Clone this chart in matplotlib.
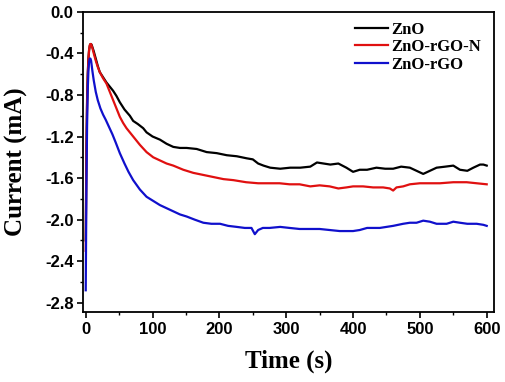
import matplotlib
matplotlib.use('Agg')
import matplotlib.pyplot as plt
from matplotlib.ticker import MultipleLocator

# chronoamperometry traces (time in s, current in mA)
t_zno = [0, 1, 2, 3, 4, 5, 6, 7, 8, 9, 10, 12, 15, 18, 21, 26, 31, 36, 41, 46, 51, 58, 66, 71, 78,
         86, 91, 100, 111, 121, 131, 141, 151, 166, 181, 196, 211, 226, 241, 250, 258, 266, 276,
         291, 306, 321, 336, 346, 356, 366, 378, 390, 400, 410, 421, 435, 448, 460, 472, 485,
         495, 505, 515, 525, 538, 550, 560, 571, 580, 590, 595, 600]
i_zno = [-2.2, -1.3, -0.85, -0.6, -0.45, -0.37, -0.33, -0.31, -0.31, -0.32, -0.34, -0.38, -0.45,
         -0.52, -0.58, -0.63, -0.68, -0.72, -0.76, -0.81, -0.87, -0.94, -1.0, -1.05, -1.08,
         -1.12, -1.16, -1.2, -1.23, -1.27, -1.3, -1.31, -1.31, -1.32, -1.35, -1.36, -1.38,
         -1.39, -1.41, -1.42, -1.46, -1.48, -1.50, -1.51, -1.50, -1.50, -1.49, -1.45, -1.46,
         -1.47, -1.46, -1.50, -1.54, -1.52, -1.52, -1.50, -1.51, -1.51, -1.49, -1.50,
         -1.53, -1.56, -1.53, -1.50, -1.49, -1.48, -1.52, -1.53, -1.50, -1.47, -1.47, -1.48]

t_n = [0, 1, 2, 3, 4, 5, 6, 7, 8, 9, 10, 12, 15, 18, 21, 26, 31, 36, 41, 46, 51, 56, 61, 71, 81,
       91, 101, 111, 121, 131, 146, 161, 176, 191, 206, 221, 240, 258, 275, 290, 305, 320, 336,
       350, 365, 378, 390, 400, 415, 430, 445, 455, 460, 465, 475, 485, 500, 515, 530, 550,
       570, 585, 600]
i_n = [-2.3, -1.4, -0.9, -0.62, -0.46, -0.37, -0.32, -0.31, -0.31, -0.33, -0.35, -0.40, -0.47,
       -0.53, -0.58, -0.64, -0.69, -0.77, -0.85, -0.93, -1.01, -1.07, -1.12, -1.2, -1.28,
       -1.35, -1.40, -1.43, -1.46, -1.48, -1.52, -1.55, -1.57, -1.59, -1.61, -1.62, -1.64,
       -1.65, -1.65, -1.65, -1.66, -1.66, -1.68, -1.67, -1.68, -1.70, -1.69, -1.68, -1.68,
       -1.69, -1.69, -1.70, -1.72, -1.69, -1.68, -1.66, -1.65, -1.65, -1.65, -1.64, -1.64,
       -1.65, -1.66]

t_rgo = [0, 1, 2, 3, 4, 5, 6, 7, 8, 9, 10, 12, 15, 18, 22, 26, 30, 35, 40, 45, 51, 58, 64, 71,
         81, 91, 101, 111, 121, 131, 141, 151, 163, 176, 188, 201, 213, 226, 238, 248, 253,
         258, 265, 275, 291, 305, 320, 336, 350, 365, 380, 400, 410, 421, 440, 460, 475, 485,
         495, 505, 515, 525, 540, 550, 560, 571, 585, 595, 600]
i_rgo = [-2.68, -1.7, -1.1, -0.75, -0.57, -0.48, -0.45, -0.45, -0.47, -0.52, -0.57, -0.66,
         -0.77, -0.85, -0.93, -0.99, -1.04, -1.11, -1.18, -1.26, -1.36, -1.46, -1.54, -1.62,
         -1.71, -1.78, -1.82, -1.86, -1.89, -1.92, -1.95, -1.97, -2.0, -2.03, -2.04, -2.04,
         -2.06, -2.07, -2.08, -2.08, -2.14, -2.10, -2.08, -2.08, -2.07, -2.08, -2.09, -2.09,
         -2.09, -2.10, -2.11, -2.11, -2.10, -2.08, -2.08, -2.06, -2.04, -2.03, -2.03, -2.01,
         -2.02, -2.04, -2.04, -2.02, -2.03, -2.04, -2.04, -2.05, -2.06]

labels = ['ZnO', 'ZnO-rGO-N', 'ZnO-rGO']
colors = ['black', '#e01010', '#1010cc']

fig = plt.figure(figsize=(5.05, 3.82), dpi=100)
ax = fig.add_axes([0.165, 0.183, 0.814, 0.786])

ax.plot(t_zno, i_zno, color=colors[0], lw=1.6, label=labels[0])
ax.plot(t_n, i_n, color=colors[1], lw=1.6, label=labels[1])
ax.plot(t_rgo, i_rgo, color=colors[2], lw=1.6, label=labels[2])

ax.set_xlim(-3.6, 611.5)
ax.set_ylim(-2.89, 0.0)
ax.xaxis.set_major_locator(MultipleLocator(100))
ax.xaxis.set_minor_locator(MultipleLocator(50))
ax.yaxis.set_major_locator(MultipleLocator(0.4))
ax.yaxis.set_minor_locator(MultipleLocator(0.2))
ax.yaxis.set_major_formatter(plt.FuncFormatter(lambda v, p: f"{v:.1f}"))

ax.tick_params(which='major', direction='out', length=4, width=1.2, pad=3)
ax.tick_params(which='minor', direction='out', length=2.5, width=1.0)
for lab in ax.get_xticklabels() + ax.get_yticklabels():
    lab.set_fontfamily('Liberation Sans')
    lab.set_fontweight('bold')
    lab.set_fontsize(12)
for sp in ax.spines.values():
    sp.set_linewidth(1.3)

ax.set_xlabel('Time (s)', fontfamily='Liberation Serif', fontweight='bold', fontsize=18, labelpad=9)
ax.set_ylabel('Current (mA)', fontfamily='Liberation Serif', fontweight='bold', fontsize=18, labelpad=12)

leg = ax.legend(loc='upper left', bbox_to_anchor=(0.645, 0.99), frameon=False,
                prop={'family': 'Liberation Serif', 'weight': 'bold', 'size': 12},
                handlelength=2.0, handletextpad=0.15, labelspacing=0.1, borderaxespad=0)

fig.savefig('out.png', dpi=100)
